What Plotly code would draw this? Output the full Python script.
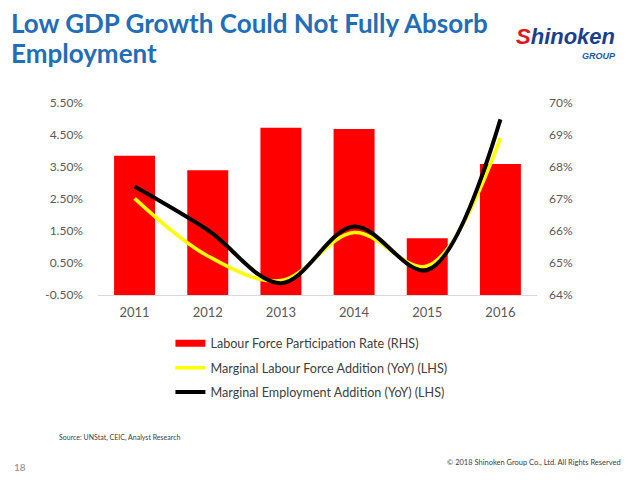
import plotly.graph_objects as go

years = ["2011", "2012", "2013", "2014", "2015", "2016"]
participation_rate = [68.35, 67.9, 69.23, 69.19, 65.77, 68.09]          # RHS, %
labour_force_addition = [2.52, 0.72, -0.05, 1.45, 0.41, 4.40]          # LHS, %
employment_addition = [2.89, 1.53, -0.13, 1.64, 0.28, 4.99]            # LHS, %

left_tickvals = [-0.5, 0.5, 1.5, 2.5, 3.5, 4.5, 5.5]
left_ticktext = ["-0.50%", "0.50%", "1.50%", "2.50%", "3.50%", "4.50%", "5.50%"]
right_tickvals = [64, 65, 66, 67, 68, 69, 70]
right_ticktext = ["64%", "65%", "66%", "67%", "68%", "69%", "70%"]

names = ["Labour Force Participation Rate (RHS)",
         "Marginal Labour Force Addition (YoY) (LHS)",
         "Marginal Employment Addition (YoY) (LHS)"]

FONT = "Lato"
GREY = "#595959"

fig = go.Figure()
# bars on primary axis (drawn below), shown on the right side
fig.add_trace(go.Bar(x=years, y=participation_rate, yaxis="y", name=names[0],
                     marker=dict(color="#FF0000", line=dict(width=0)),
                     width=0.56, showlegend=False))
# lines on overlaying axis (drawn on top), shown on the left side
fig.add_trace(go.Scatter(x=years, y=labour_force_addition, mode="lines", name=names[1],
                         yaxis="y2",
                         line=dict(color="#FFFF00", width=3.5, shape="spline", smoothing=1.0),
                         legendgroup="b", legendrank=2))
fig.add_trace(go.Scatter(x=years, y=employment_addition, mode="lines", name=names[2],
                         yaxis="y2",
                         line=dict(color="#000000", width=4, shape="spline", smoothing=1.0),
                         legendgroup="c", legendrank=3))
# legend entry for the bars (wide red swatch)
fig.add_trace(go.Scatter(x=[None], y=[None], mode="lines", name=names[0], yaxis="y2",
                         line=dict(color="#FF0000", width=7),
                         legendgroup="a", legendrank=1))

fig.update_layout(
    width=640, height=480,
    margin=dict(l=98, r=103, t=103, b=185),
    paper_bgcolor="white", plot_bgcolor="white",
    font=dict(family=FONT, size=12, color=GREY),
    xaxis=dict(type="category", showgrid=False, zeroline=False,
               showline=True, linecolor="#D9D9D9", linewidth=1,
               ticks="", ticklabelstandoff=5,
               tickfont=dict(size=13, color=GREY, family=FONT)),
    yaxis=dict(range=[64, 70], tickvals=right_tickvals, ticktext=right_ticktext,
               side="right", showgrid=False, zeroline=False, showline=False,
               ticks="", ticklabelstandoff=11,
               tickfont=dict(size=12, color=GREY, family=FONT)),
    yaxis2=dict(range=[-0.5, 5.5], tickvals=left_tickvals, ticktext=left_ticktext,
                overlaying="y", side="left", showgrid=False, zeroline=False,
                showline=False, ticks="", ticklabelstandoff=14,
                tickfont=dict(size=12, color=GREY, family=FONT)),
    legend=dict(x=0.165, y=-0.175, xanchor="left", yanchor="top",
                orientation="v", tracegroupgap=5,
                font=dict(family=FONT, size=12.6, color="#404040"),
                itemwidth=30, bgcolor="rgba(0,0,0,0)"),
    showlegend=True,
)

TITLE_BLUE = "#1F6EB6"
annotations = [
    dict(text="<b>Low GDP Growth Could Not Fully Absorb</b>", x=9, y=480 - 23,
         font=dict(family=FONT, size=26, color=TITLE_BLUE)),
    dict(text="<b>Employment</b>", x=9, y=480 - 53,
         font=dict(family=FONT, size=26, color=TITLE_BLUE)),
    dict(text="<b><i><span style='color:#E3131B'>S</span>hinoken</i></b>", x=514, y=480 - 36,
         font=dict(family="Liberation Sans", size=22, color="#1B3E8F")),
    dict(text="<b><i>GROUP</i></b>", x=580, y=480 - 56,
         font=dict(family="Liberation Sans", size=9, color="#1B58A8")),
    dict(text="Source: UNStat, CEIC, Analyst Research", x=57, y=480 - 437,
         font=dict(family=FONT, size=7, color="#404040")),
    dict(text="18", x=12, y=480 - 467,
         font=dict(family=FONT, size=10, color="#8C8C8C")),
]
for a in annotations:
    fig.add_annotation(xref="paper", yref="paper", showarrow=False,
                       xanchor="left", yanchor="middle",
                       x=(a["x"] - 98) / 439, y=(a["y"] - 185) / 192,
                       text=a["text"], font=a["font"])
fig.add_annotation(xref="paper", yref="paper", showarrow=False,
                   xanchor="right", yanchor="middle",
                   x=(623 - 98) / 439, y=(480 - 462 - 185) / 192,
                   text="© 2018 Shinoken Group Co., Ltd. All Rights Reserved",
                   font=dict(family=FONT, size=7.5, color="#404040"))

fig.write_html("out.html", config={"displayModeBar": False},
               post_script="document.body.style.margin='0';")
